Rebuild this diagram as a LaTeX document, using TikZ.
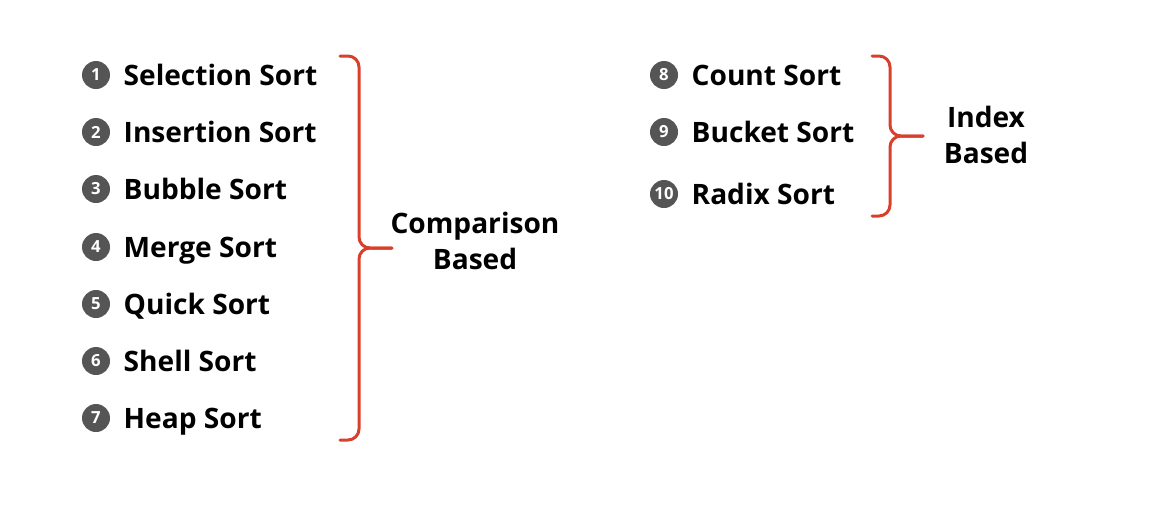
\documentclass[tikz,border=0pt]{standalone}
\usepackage{fontspec}
\setmainfont{Open Sans}
\usetikzlibrary{positioning}
\definecolor{badgeGray}{HTML}{555555}
\definecolor{braceRed}{HTML}{D9402B}
\tikzset{
  badge/.style = {circle,fill=badgeGray,text=white,inner sep=0pt,minimum size=28*0.02cm,font=\bfseries\fontsize{9.5}{10}\selectfont},
  item/.style = {anchor=west,inner sep=0pt,text height=11.5pt,text depth=0pt,font=\bfseries\fontsize{16}{19}\selectfont},
  group/.style = {align=center,inner sep=0pt,font=\bfseries\fontsize{16}{20.4}\selectfont},
  brace/.style = {color=#1,line width=3*0.02cm,rounded corners=11*0.02cm,line cap=round}
}
\newcommand{\sortItem}[4]{%
  % #1: node name
  % #2: position of the badge
  % #3: number in the badge
  % #4: name of the sort
  \node[badge] (#1) at (#2) {#3};
  \node[item, right=13*0.02cm of #1] (#1-txt) {#4};
}

\begin{document}
\begin{tikzpicture}[x=0.02cm,y=-0.02cm]
    \useasboundingbox (0,0) rectangle (1160,508);

    %==== Comparison based ====
    \begin{scope}
        % Items
        \sortItem{s1}{96,75}{1}{Selection Sort}
        \sortItem{s2}{96,132}{2}{Insertion Sort}
        \sortItem{s3}{96,189}{3}{Bubble Sort}
        \sortItem{s4}{96,247}{4}{Merge Sort}
        \sortItem{s5}{96,304}{5}{Quick Sort}
        \sortItem{s6}{96,361}{6}{Shell Sort}
        \sortItem{s7}{96,418}{7}{Heap Sort}

        % Brace
        \coordinate (cTop) at (340,56);
        \coordinate (cBot) at (340,440);
        \coordinate (cTip) at (392,248);
        \draw[brace={braceRed}] (cTop) -- (359,56) -- (359,248) -- (cTip);
        \draw[brace={braceRed}] (cBot) -- (359,440) -- (359,248) -- (cTip);

        % Label
        \node[group] (comp) at (475,241) {Comparison\\Based};
    \end{scope}

    %==== Index based ====
    \begin{scope}
        % Items
        \sortItem{s8}{664,75}{8}{Count Sort}
        \sortItem{s9}{664,132}{9}{Bucket Sort}
        \sortItem{s10}{664,194}{10}{Radix Sort}

        % Brace
        \coordinate (iTop) at (872,56);
        \coordinate (iBot) at (872,216);
        \coordinate (iTip) at (923,136);
        \draw[brace={braceRed}] (iTop) -- (890,56) -- (890,136) -- (iTip);
        \draw[brace={braceRed}] (iBot) -- (890,216) -- (890,136) -- (iTip);

        % Label
        \node[group] (idx) at (986,135) {Index\\Based};
    \end{scope}

\end{tikzpicture}
\end{document}
